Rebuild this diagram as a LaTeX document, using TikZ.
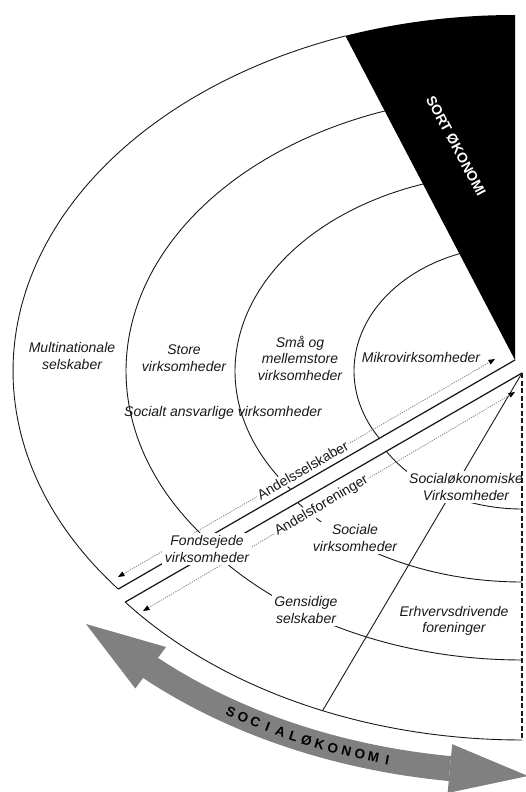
\documentclass[tikz,border=0pt]{standalone}
\usepackage{fontspec}
\setmainfont{Liberation Sans}
\usetikzlibrary{arrows.meta}
\definecolor{arrgray}{RGB}{128,128,128}
\definecolor{dotgray}{RGB}{140,140,140}
\definecolor{inkc}{RGB}{25,25,25}
\newcommand\labfont{\fontsize{14}{16.5}\selectfont\itshape}
\newcommand\uprfont{\fontsize{14}{16.5}\selectfont}
\begin{document}
\begin{tikzpicture}[x=1pt,y=-1pt,
  arcline/.style={line width=0.9pt, draw=inkc},
  edgeline/.style={line width=1.25pt, draw=inkc},
  lab/.style={font=\labfont, align=center, text=inkc, inner sep=2pt},
  wlab/.style={lab, fill=white, inner sep=2.5pt},
  slab/.style={font=\uprfont, text=inkc, fill=white, inner sep=1.5pt, sloped},
  dtip/.tip={Triangle[length=6.5pt,width=5pt,color=black]},
  dotarr/.style={draw=dotgray, line width=0.9pt, dash pattern=on 1.2pt off 1.2pt, arrows={dtip-dtip}},
  sortlab/.style={font=\fontsize{14}{16}\selectfont\bfseries, text=white, inner sep=0pt},
  socl/.style={font=\fontsize{13.5}{15}\selectfont\bfseries, text=black, inner sep=0pt},
  dashv/.style={line width=1.3pt, draw=inkc, dash pattern=on 5pt off 2.5pt}
]
\useasboundingbox (0,0) rectangle (526,792);

% key points
\coordinate (U) at (515,371);
\coordinate (Uv) at (515,360);
\coordinate (L) at (522,384);
\coordinate (Lv) at (522,373);
\coordinate (Uc) at (118.2,589.1);
\coordinate (Lc) at (125.2,602.1);
\coordinate (Ld) at (322.6,710.7);
\coordinate (Lb) at (522,740);

% black wedge
\begin{scope}
  \clip (Uv) -- (300.5,-50) -- (515,-50) -- cycle;
  \fill[black] (U) ellipse [x radius=502pt, y radius=356pt];
\end{scope}

% upper arcs
\begin{scope}
  \clip (Uv) -- (-91.2,710) -- (-91.2,-60) -- (295.3,-60) -- cycle;
  \foreach \ra/\rb in {502/356,389/276,280/198,161/125}
    \draw[arcline] plot[domain=90:270, samples=150] ({515+\ra*cos(\x)},{371+\rb*sin(\x)});
\end{scope}

% lower arcs
\begin{scope}
  \clip (Lv) -- (-84.2,723) -- (-84.2,800) -- (522,800) -- cycle;
  \foreach \ra/\rb in {502/356,389/276,280/198,161/125}
    \draw[arcline] plot[domain=90:270, samples=150] ({522+\ra*cos(\x)},{384+\rb*sin(\x)});
\end{scope}

% diagonal edges and divider
\draw[edgeline] (Uv) -- (Uc);
\draw[edgeline] (Lv) -- (Lc);
\draw[arcline] (Lv) -- (Ld);

% dotted double arrows with labels
\coordinate (a1s) at (118,577);
\coordinate (a1e) at (495,359);
\coordinate (a2s) at (143,611);
\coordinate (a2e) at (515,392);
\draw[dotarr] (a1s) -- node[slab, pos=0.49] (andss) {Andelsselskaber} (a1e);
\draw[dotarr] (a2s) -- node[slab, pos=0.48] (andfo) {Andelsforeninger} (a2e);

% labels
\node[lab] (multi) at (72,356) {Multinationale\\selskaber};
\node[lab] (store) at (184,358) {Store\\virksomheder};
\node[lab] (smaa) at (300,358) {Små og\\mellemstore\\virksomheder};
\node[lab] (mikro) at (421,357) {Mikrovirksomheder};
\node[lab] (csr) at (223,413) {Socialt ansvarlige virksomheder};
\node[wlab] (fond) at (207,549) {Fondsejede\\virksomheder};
\node[wlab] (socv) at (355,538) {Sociale\\virksomheder};
\node[wlab] (soko) at (466,487) {Socialøkonomiske\\Virksomheder};
\node[wlab] (gens) at (306,610) {Gensidige\\selskaber};
\node[lab] (erhv) at (454,621) {Erhvervsdrivende\\foreninger};
\node[sortlab, rotate=-62] (sort) at (456,146) {SORT ØKONOMI};

% dashed right boundary of the lower part
\draw[dashv] (Lv) -- (Lb);

% grey double arrow
\draw[arrgray, line width=25pt] plot[domain=133.2:97.6, samples=80] ({522+545*cos(\x)},{384+388*sin(\x)});
\coordinate (tipL) at (86,624);
\coordinate (bL1) at (166,647);
\coordinate (bL2) at (135.3,688.5);
\coordinate (tipR) at (528,776);
\coordinate (bR1) at (452.2,744.2);
\coordinate (bR2) at (447.6,793);
\fill[arrgray] (tipL) -- (bL1) -- (bL2) -- cycle;
\fill[arrgray] (tipR) -- (bR1) -- (bR2) -- cycle;

\foreach \ch [count=\i from 0] in {S,O,C,I,A,L,Ø,K,O,N,O,M,I}{
  \pgfmathsetmacro\socT{122.3-1.5*\i}
  \pgfmathsetmacro\socR{atan2(388*cos(\socT),545*sin(\socT))}
  \node[socl, rotate=\socR] (soc\i) at ({522+545*cos(\socT)},{384+388*sin(\socT)}) {\ch};
}
\end{tikzpicture}
\end{document}
